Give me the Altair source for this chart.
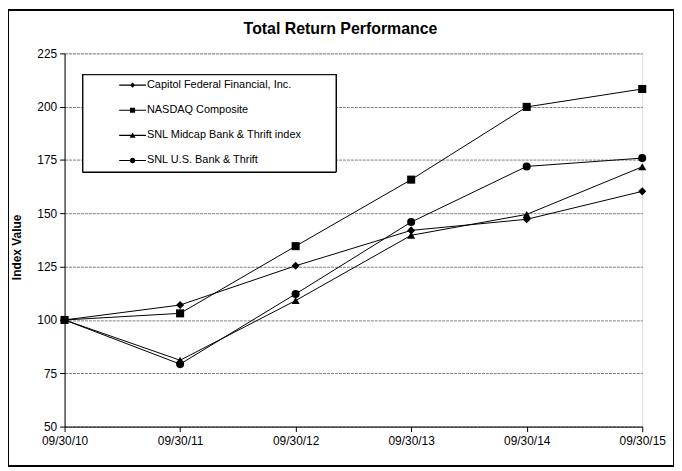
import altair as alt
import pandas as pd

dates = ["09/30/10", "09/30/11", "09/30/12", "09/30/13", "09/30/14", "09/30/15"]
series_names = [
    "Capitol Federal Financial, Inc.",
    "NASDAQ Composite",
    "SNL Midcap Bank & Thrift index",
    "SNL U.S. Bank & Thrift",
]
capitol = [100, 107.0, 125.4, 142.0, 147.2, 160.3]
nasdaq = [100, 103.1, 134.6, 165.8, 199.9, 208.3]
midcap = [100, 81.1, 109.1, 139.7, 149.5, 171.8]
snl_us = [100, 79.3, 112.2, 145.9, 172.0, 175.9]
y_ticks = [50, 75, 100, 125, 150, 175, 200, 225]

rows = []
for name, vals in zip(series_names, [capitol, nasdaq, midcap, snl_us]):
    for d, v in zip(dates, vals):
        rows.append({"date": d, "series": name, "value": v})
df = pd.DataFrame(rows)

FONT = "Liberation Sans"

x_enc = alt.X(
    "date:O",
    sort=dates,
    scale=alt.Scale(type="point", padding=0),
    axis=alt.Axis(
        title=None, labelAngle=0, labelFontSize=12, labelFont=FONT,
        labelColor="black", tickColor="black", tickSize=5,
        domainColor="black", labelPadding=4, grid=False,
    ),
)
y_enc = alt.Y(
    "value:Q",
    scale=alt.Scale(domain=[50, 225], nice=False, zero=False),
    axis=alt.Axis(
        title="Index Value", values=y_ticks, titleFontSize=12, titleFont=FONT,
        titleFontWeight="bold", titleColor="black", titleX=-48, titleY=195,
        titleBaseline="middle", labelFontSize=12, labelFont=FONT,
        labelColor="black", tickColor="black", tickSize=5, domainColor="black",
        labelPadding=3, grid=True, gridColor="#808080", gridDash=[3, 1],
        gridWidth=1,
    ),
)

base = alt.Chart(df)

border = base.mark_rect(fillOpacity=0, stroke="black", strokeWidth=1).encode(
    x=alt.value(-56.5), x2=alt.value(613.5), y=alt.value(-43.5), y2=alt.value(415.5)
)

legend_box = base.mark_rect(fill="white", stroke="black", strokeWidth=1).encode(
    x=alt.value(18.5), x2=alt.value(273.5), y=alt.value(21.5), y2=alt.value(119.5)
)

lines = base.mark_line(color="black", strokeWidth=1).encode(
    x=x_enc, y=y_enc, detail="series:N"
)

points = base.mark_point(filled=True, color="black", size=66, opacity=1).encode(
    x=x_enc,
    y=y_enc,
    shape=alt.Shape(
        "series:N",
        scale=alt.Scale(domain=series_names,
                        range=["diamond", "square", "triangle-up", "circle"]),
        legend=None,
    ),
)

LINE = "M-1,-0.04H1V0.04H-1Z"
leg_paths = [
    LINE + "M0,-0.2L0.2,0L0,0.2L-0.2,0Z",
    LINE + "M-0.19,-0.19H0.19V0.19H-0.19Z",
    LINE + "M0,-0.22L0.22,0.17H-0.22Z",
    LINE + "M-0.2,0A0.2,0.2 0 1,1 0.2,0A0.2,0.2 0 1,1 -0.2,0Z",
]

legend_layer = base.mark_point(filled=True, color="black", opacity=1).encode(
    x=x_enc,
    y=y_enc,
    shape=alt.Shape(
        "series:N",
        scale=alt.Scale(domain=series_names, range=leg_paths),
        legend=alt.Legend(
            title=None, orient="none", legendX=55, legendY=18.5,
            symbolSize=729, symbolFillColor="black", labelFontSize=11,
            labelFont=FONT, labelColor="black", labelOffset=1,
            rowPadding=6.3, padding=0, symbolStrokeWidth=0,
        ),
    ),
).transform_filter("false")

chart = (
    alt.layer(border, legend_box, lines, points, legend_layer)
    .resolve_scale(shape="independent")
    .properties(
        width=582,
        height=376,
        autosize=alt.AutoSizeParams(type="none"),
        padding={"left": 57, "top": 44, "right": 32, "bottom": 40},
        title=alt.TitleParams(
            "Total Return Performance", fontSize=16, font=FONT,
            fontWeight="bold", color="black", anchor="middle", dx=-13,
            baseline="alphabetic", offset=-40,
        ),
    )
    .configure_view(stroke="black", strokeWidth=1)
    .configure(background="white")
)

chart.save("out.html", embed_options={"renderer": "svg", "actions": False})
